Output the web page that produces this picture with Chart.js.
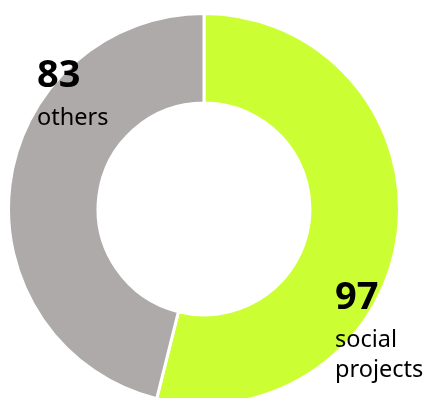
<!DOCTYPE html>
<html>
<head>
<meta charset="utf-8">
<script src="https://cdn.jsdelivr.net/npm/chart.js@4/dist/chart.umd.min.js"></script>
<style>
  html, body { margin: 0; padding: 0; background: #fff; overflow: hidden; }
  #wrap { width: 426px; height: 398px; }
</style>
</head>
<body>
<div id="wrap"><canvas id="donut" width="426" height="398"></canvas></div>
<script>
/* data */
const categories = ['social projects', 'others'];
const counts     = [97, 83];
const colors     = ['#CCFF33', '#AEAAAA'];

/* value + category text next to each slice */
const sliceLabels = {
  id: 'sliceLabels',
  afterDraw(chart) {
    const { ctx, chartArea } = chart;
    const cx = (chartArea.left + chartArea.right) / 2;
    const cy = (chartArea.top + chartArea.bottom) / 2;
    const spots = [
      { x: cx + 131, y: cy + 100, lines: ['social', 'projects'] },
      { x: cx - 167, y: cy - 122, lines: ['others'] },
    ];
    ctx.save();
    ctx.fillStyle = '#000';
    ctx.textAlign = 'left';
    ctx.textBaseline = 'alphabetic';
    spots.forEach((s, i) => {
      ctx.font = "bold 38px 'Noto Sans'";
      ctx.fillText(String(counts[i]), s.x, s.y);
      ctx.font = "23.5px 'Noto Sans'";
      s.lines.forEach((t, j) => ctx.fillText(t, s.x, s.y + 38 + j * 30));
    });
    ctx.restore();
  }
};

new Chart(document.getElementById('donut'), {
  type: 'doughnut',
  data: {
    labels: categories,
    datasets: [{
      data: counts,
      backgroundColor: colors,
      borderColor: '#fff',
      borderWidth: 3,
      hoverOffset: 0,
    }],
  },
  options: {
    responsive: false,
    animation: false,
    radius: 195.5,
    cutout: '54.2%',
    layout: { padding: { left: 0, right: 18, top: 20, bottom: 0 } },
    plugins: {
      legend: { display: false },
      tooltip: { enabled: false },
    },
  },
  plugins: [sliceLabels],
});
</script>
</body>
</html>
